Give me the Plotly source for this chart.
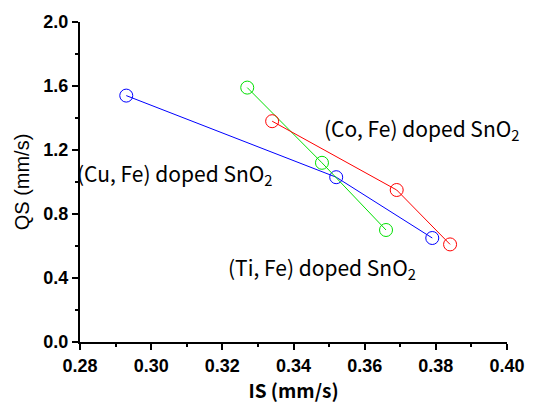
import plotly.graph_objects as go

# Isomer shift (IS) and quadrupole splitting (QS) for each co-doped SnO2 sample
cu_is = [0.293, 0.352, 0.379]
cu_qs = [1.54, 1.03, 0.65]
ti_is = [0.327, 0.348, 0.366]
ti_qs = [1.59, 1.12, 0.70]
co_is = [0.334, 0.369, 0.384]
co_qs = [1.38, 0.95, 0.61]

x_ticks = [0.28, 0.30, 0.32, 0.34, 0.36, 0.38, 0.40]
y_ticks = [0.0, 0.4, 0.8, 1.2, 1.6, 2.0]

series = [
    (cu_is, cu_qs, "#0000ff"),
    (ti_is, ti_qs, "#00e000"),
    (co_is, co_qs, "#ff0000"),
]

fig = go.Figure()
for xs, ys, col in series:
    fig.add_trace(go.Scatter(
        x=xs, y=ys, mode="lines+markers",
        line=dict(color=col, width=1),
        marker=dict(symbol="circle-open", size=13, color=col, line=dict(width=1, color=col)),
        showlegend=False,
    ))

label_font = dict(family="Noto Sans CJK JP", size=21, color="black")
fig.add_annotation(x=0.3761, y=1.33, text="(Co, Fe) doped SnO<sub>2</sub>",
                   showarrow=False, font=label_font, xanchor="center", yanchor="middle")
fig.add_annotation(x=0.3066, y=1.05, text="(Cu, Fe) doped SnO<sub>2</sub>",
                   showarrow=False, font=label_font, xanchor="center", yanchor="middle")
fig.add_annotation(x=0.348, y=0.46, text="(Ti, Fe) doped SnO<sub>2</sub>",
                   showarrow=False, font=label_font, xanchor="center", yanchor="middle")

axis_common = dict(
    showline=True, linecolor="black", linewidth=2,
    ticks="outside", ticklen=6, tickwidth=2, tickcolor="black",
    showgrid=False, zeroline=False, mirror=False,
    tickfont=dict(family="Liberation Sans", size=18, color="black", weight="bold"),
    minor=dict(ticks="outside", ticklen=3, tickwidth=1.5, tickcolor="black"),
)

fig.update_xaxes(
    range=[0.28, 0.40], tickvals=x_ticks, ticktext=[f"{v:.2f}" for v in x_ticks],
    minor_dtick=0.01,
    title=dict(text="<b>IS (mm/s)</b>", font=dict(family="Noto Sans CJK JP", size=19, color="black"), standoff=4),
    **axis_common,
)
fig.update_yaxes(
    range=[0.0, 2.0], tickvals=y_ticks, ticktext=[f"{v:.1f}" for v in y_ticks],
    minor_dtick=0.2,
    title=dict(text="QS (mm/s)", font=dict(family="Liberation Sans", size=20, color="black"), standoff=8),
    **axis_common,
)

fig.update_layout(
    width=537, height=405,
    margin=dict(l=80, r=20, t=22, b=61),
    plot_bgcolor="white", paper_bgcolor="white",
)

fig.write_html("out.html")
